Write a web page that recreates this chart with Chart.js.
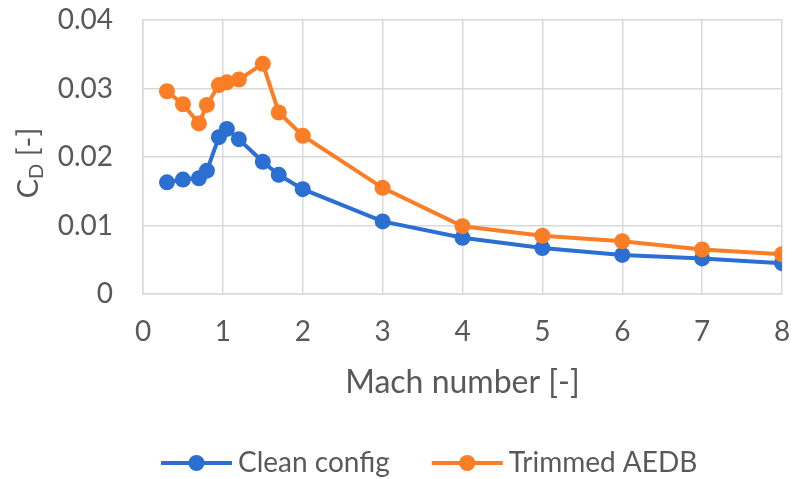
<!DOCTYPE html>
<html>
<head>
<meta charset="utf-8">
<script src="https://cdn.jsdelivr.net/npm/chart.js@4"></script>
<style>
  html, body { margin: 0; padding: 0; background: #fff; }
</style>
</head>
<body>
<canvas id="chart" width="795" height="479"></canvas>
<script>
const machNumbers = [0.3, 0.5, 0.7, 0.8, 0.95, 1.05, 1.2, 1.5, 1.7, 2, 3, 4, 5, 6, 7, 8];
const cdClean = [0.0163, 0.0167, 0.0169, 0.018, 0.0229, 0.0241, 0.0226, 0.0193, 0.0174, 0.0153, 0.0106, 0.0082, 0.0067, 0.0057, 0.0052, 0.0045];
const cdTrimmed = [0.0296, 0.0277, 0.0249, 0.0276, 0.0305, 0.0309, 0.0313, 0.0336, 0.0265, 0.0231, 0.0155, 0.0099, 0.0085, 0.0077, 0.0065, 0.0058];
const seriesNames = ["Clean config", "Trimmed AEDB"];
const xTickValues = [0, 1, 2, 3, 4, 5, 6, 7, 8];
const yTickValues = [0, 0.01, 0.02, 0.03, 0.04];

const BLUE = "#2B6FD2";
const ORANGE = "#FB7D26";
const TEXT = "#595959";
const GRID = "#d9d9d9";
const FONT = "Lato, 'Open Sans', sans-serif";

const toPoints = (ys) => machNumbers.map((x, i) => ({ x: x, y: ys[i] }));

// y-axis title with subscript D
const yTitlePlugin = {
  id: "yTitle",
  afterDraw(chart) {
    const ctx = chart.ctx;
    const area = chart.chartArea;
    const big = "29px " + FONT;
    const small = "20px " + FONT;
    ctx.save();
    ctx.fillStyle = TEXT;
    ctx.textBaseline = "alphabetic";
    ctx.font = big;
    const wC = ctx.measureText("C").width;
    const wRest = ctx.measureText(" [-]").width;
    ctx.font = small;
    const wD = ctx.measureText("D").width;
    const total = wC + wD + wRest;
    ctx.translate(38, (area.top + area.bottom) / 2 + 6);
    ctx.rotate(-Math.PI / 2);
    let x = -total / 2;
    ctx.font = big;
    ctx.fillText("C", x, 0);
    x += wC;
    ctx.font = small;
    ctx.fillText("D", x, 5);
    x += wD;
    ctx.font = big;
    ctx.fillText(" [-]", x, 0);
    ctx.restore();
  }
};

// legend drawn as line + marker like the original
const legendPlugin = {
  id: "lineLegend",
  afterDraw(chart) {
    const ctx = chart.ctx;
    const y = 463;
    let x = chart.chartArea.left + 18;
    ctx.save();
    ctx.font = "28px " + FONT;
    ctx.textBaseline = "middle";
    chart.data.datasets.forEach((ds) => {
      ctx.strokeStyle = ds.borderColor;
      ctx.lineWidth = 4;
      ctx.beginPath();
      ctx.moveTo(x, y);
      ctx.lineTo(x + 71, y);
      ctx.stroke();
      ctx.fillStyle = ds.borderColor;
      ctx.beginPath();
      ctx.arc(x + 35.5, y, 8, 0, Math.PI * 2);
      ctx.fill();
      ctx.fillStyle = TEXT;
      ctx.fillText(ds.label, x + 77, y);
      x += 77 + ctx.measureText(ds.label).width + 42;
    });
    ctx.restore();
  }
};

const ctx = document.getElementById("chart").getContext("2d");
const chart = new Chart(ctx, {
  type: "line",
  data: {
    datasets: [
      {
        label: seriesNames[0],
        data: toPoints(cdClean),
        borderColor: BLUE,
        backgroundColor: BLUE,
        pointBackgroundColor: BLUE,
        pointBorderColor: BLUE,
        borderWidth: 4,
        pointRadius: 8,
        pointBorderWidth: 0,
        tension: 0,
        order: 1,
      },
      {
        label: seriesNames[1],
        data: toPoints(cdTrimmed),
        borderColor: ORANGE,
        backgroundColor: ORANGE,
        pointBackgroundColor: ORANGE,
        pointBorderColor: ORANGE,
        borderWidth: 4,
        pointRadius: 8,
        pointBorderWidth: 0,
        tension: 0,
        order: 0,
      },
    ],
  },
  options: {
    responsive: false,
    animation: false,
    layout: { padding: { left: 0, right: 13, top: 20, bottom: 0 } },
    plugins: {
      legend: { display: false },
      tooltip: { enabled: false },
    },
    scales: {
      x: {
        type: "linear",
        min: 0,
        max: 8,
        afterBuildTicks: (s) => { s.ticks = xTickValues.map((v) => ({ value: v })); },
        afterFit: (s) => {
          s.height = 185;
          s.paddingLeft = 0;
          s.paddingRight = 0;
        },
        grid: { color: GRID, lineWidth: 1.5, drawTicks: false },
        border: { color: GRID, width: 1.5 },
        ticks: { padding: 21, color: TEXT, font: { family: FONT, size: 28 } },
        title: {
          display: true,
          text: "Mach number [-]",
          color: TEXT,
          font: { family: FONT, size: 32 },
          padding: { top: 0, bottom: 77 },
        },
      },
      y: {
        min: 0,
        max: 0.04,
        afterBuildTicks: (s) => { s.ticks = yTickValues.map((v) => ({ value: v })); },
        afterFit: (s) => {
          s.width = 143;
          s.paddingTop = 0;
          s.paddingBottom = 0;
        },
        grid: { color: GRID, lineWidth: 1.5, drawTicks: false },
        border: { color: GRID, width: 1.5 },
        ticks: {
          padding: 30,
          color: TEXT,
          font: { family: FONT, size: 28 },
          callback: (v) => (v === 0 ? "0" : v.toFixed(2)),
        },
      },
    },
  },
  plugins: [yTitlePlugin, legendPlugin],
});
</script>
</body>
</html>
